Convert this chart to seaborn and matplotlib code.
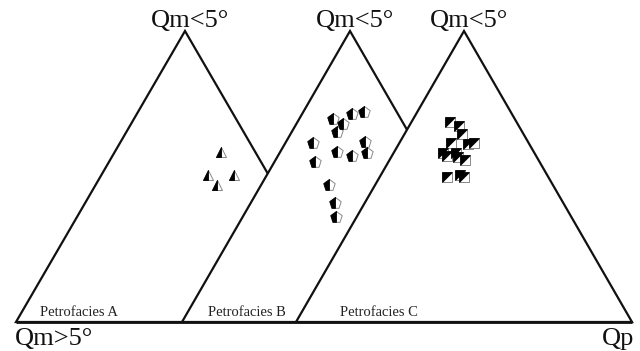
import numpy as np
import pandas as pd
import matplotlib
matplotlib.use("Agg")
import matplotlib.pyplot as plt
import seaborn as sns
from matplotlib.markers import MarkerStyle

# ---- Diagram fields (diagram units = pixel-like, y grows downward) ----
field_names = ["Petrofacies A", "Petrofacies B", "Petrofacies C"]
field_left = [16, 182, 296]
field_apex_x = [185, 350, 464]
field_right = [354, 518, 632]
apex_y = 31
base_y = 322
field_label_x = [40, 208, 340]
apex_labels = ["Qm<5°", "Qm<5°", "Qm<5°"]
corner_left_label = "Qm>5°"
corner_right_label = "Qp"

# ---- Samples ----
a_x = [221, 208, 234, 217]
a_y = [152, 175, 175, 185]
b_x = [333, 343, 352, 364, 337, 313, 337, 352, 365, 367, 315, 329, 335, 336]
b_y = [119, 124, 114, 112, 132, 143, 152, 156, 142, 153, 162, 185, 203, 217]
c_x = [450, 459, 462, 451, 468, 474, 443, 447, 456, 458, 465, 447, 460, 464]
c_y = [122, 126, 134, 143, 144, 143, 153, 156, 153, 157, 160, 177, 175, 177]

sns.set_theme(style="white")
plt.rcParams["font.family"] = ["Liberation Serif", "DejaVu Serif"]

fig = plt.figure(figsize=(6.4, 3.51), dpi=100)
ax = fig.add_axes([0, 0, 1, 1])
ax.set_xlim(0, 640)
ax.set_ylim(351, 0)
ax.axis("off")

for i, (l, ax_x, r) in enumerate(zip(field_left, field_apex_x, field_right)):
    ax.fill([l, ax_x, r], [base_y, apex_y, base_y], facecolor="white",
            edgecolor="#111111", linewidth=1.6, joinstyle="miter", zorder=1 + i * 0.1)
ax.plot([field_left[0], field_right[-1]], [base_y, base_y], color="#111111",
        linewidth=2.0, solid_capstyle="butt", zorder=1.5)

for name, lx in zip(field_names, field_label_x):
    ax.text(lx, 316.5, name, fontsize=10.5, ha="left", va="baseline",
            color="#222222", zorder=2)

for lab, ax_x in zip(apex_labels, field_apex_x):
    ax.text(ax_x + 5, 27, lab, fontsize=19, ha="center", va="baseline", color="#111111")
ax.text(15, 345, corner_left_label, fontsize=19, ha="left", va="baseline", color="#111111")
ax.text(634, 345, corner_right_label, fontsize=19, ha="right", va="baseline", color="#111111")

df_a = pd.DataFrame({"x": a_x, "y": a_y})
df_b = pd.DataFrame({"x": b_x, "y": b_y})
df_c = pd.DataFrame({"x": c_x, "y": c_y})

sq_half = MarkerStyle([(-1, 1), (1, 1), (-1, -1), (-1, 1)])
groups = [
    (df_a, MarkerStyle("^"), MarkerStyle("^", fillstyle="left"), 7.2),
    (df_b, MarkerStyle("p"), MarkerStyle("p", fillstyle="left"), 8.6),
    (df_c, MarkerStyle("s"), sq_half, 7.0),
]
for df, full, half, ms in groups:
    sns.scatterplot(data=df, x="x", y="y", ax=ax, marker=full, s=ms ** 2,
                    color="white", edgecolor="#888888", linewidth=0.7, zorder=3)
    sns.scatterplot(data=df, x="x", y="y", ax=ax, marker=half, s=ms ** 2,
                    color="black", edgecolor="black", linewidth=0.6, zorder=4)

ax.set_xlabel("")
ax.set_ylabel("")
fig.savefig("out.png", dpi=100)
